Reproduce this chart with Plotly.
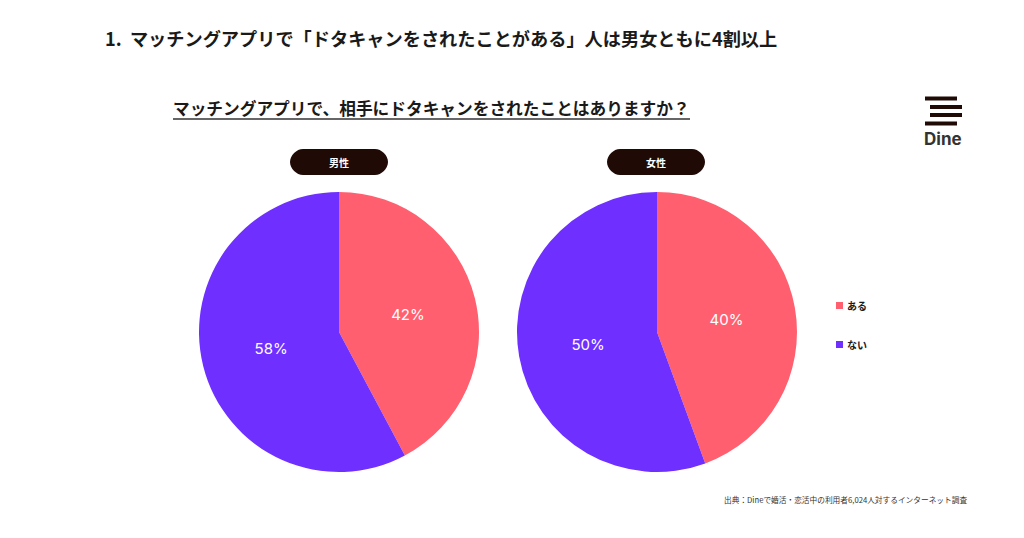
import plotly.graph_objects as go

# slices follow the drawn areas, the labels are what the slide prints
labels = ['ある', 'ない']
male_values = [42.2, 57.8]
female_values = [44.4, 55.6]
male_text = ['42%', '58%']
female_text = ['40%', '50%']
colors = ['#FF5F6F', '#6F2FFF']

title_text = '1.  マッチングアプリで「ドタキャンをされたことがある」人は男女ともに4割以上'
question_text = 'マッチングアプリで、相手にドタキャンをされたことはありますか？'
source_text = '出典：Dineで婚活・恋活中の利用者6,024人対するインターネット調査'

W, H = 1024, 538
JP = 'Noto Sans CJK JP'
DARK = '#1F0A06'


def pie_trace(values, text, x0, x1):
    return go.Pie(
        labels=labels, values=values, text=text,
        textinfo='text', textposition='inside', insidetextorientation='horizontal',
        textfont=dict(family='Inter', size=15, color='white'),
        marker=dict(colors=colors, line=dict(width=0)),
        sort=False, direction='clockwise', rotation=0, hole=0,
        domain=dict(x=[x0 / W, x1 / W], y=[(H - 472) / H, (H - 192) / H]),
        showlegend=False, hoverinfo='label+value',
    )


def pill_path(x0, y0, x1, y1):
    r = (y1 - y0) / 2
    return (f'M {x0 + r} {y0} L {x1 - r} {y0} C {x1 - r / 2} {y0} {x1} {y0 + r / 2} {x1} {y0 + r} '
            f'C {x1} {y1 - r / 2} {x1 - r / 2} {y1} {x1 - r} {y1} L {x0 + r} {y1} '
            f'C {x0 + r / 2} {y1} {x0} {y1 - r / 2} {x0} {y0 + r} C {x0} {y0 + r / 2} {x0 + r / 2} {y0} {x0 + r} {y0} Z')


fig = go.Figure()
fig.add_trace(pie_trace(male_values, male_text, 199, 479))
fig.add_trace(pie_trace(female_values, female_text, 517, 797))

shapes = [
    dict(type='line', x0=173, x1=690, y0=119, y1=119, line=dict(color='#333333', width=1.5)),
    dict(type='path', path=pill_path(290, 149, 388, 175), fillcolor=DARK, line=dict(width=0)),
    dict(type='path', path=pill_path(607, 149, 705, 175), fillcolor=DARK, line=dict(width=0)),
    dict(type='rect', x0=836, x1=843, y0=302, y1=309, fillcolor=colors[0], line=dict(width=0)),
    dict(type='rect', x0=836, x1=843, y0=341, y1=348, fillcolor=colors[1], line=dict(width=0)),
]
# logo bars
for bx, by in [(925, 98.5), (930, 107), (930, 115), (925, 123.5)]:
    shapes.append(dict(type='rect', x0=bx, x1=bx + 32, y0=by - 2, y1=by + 2,
                       fillcolor=DARK, line=dict(width=0)))


def note(x, y, text, size, anchor='left', color='#1A1A1A', family=JP, bold=True):
    return dict(x=x, y=y, xref='x', yref='y', text=f'<b>{text}</b>' if bold else text,
                showarrow=False, xanchor=anchor, yanchor='middle',
                font=dict(family=family, size=size, color=color))


annotations = [
    note(103, 38, title_text, 18.2),
    note(171, 108, question_text, 16.7),
    note(339, 162, '男性', 10, 'center', 'white'),
    note(656, 162, '女性', 10, 'center', 'white'),
    note(845, 305, labels[0], 10),
    note(845, 344, labels[1], 10),
    note(943, 139, 'Dine', 17, 'center', '#333333', 'Inter'),
    note(722, 499, source_text, 7.7, color='#333333', bold=False),
]

fig.update_layout(
    width=W, height=H, margin=dict(l=0, r=0, t=0, b=0),
    paper_bgcolor='white', plot_bgcolor='white',
    xaxis=dict(range=[0, W], visible=False, fixedrange=True),
    yaxis=dict(range=[H, 0], visible=False, fixedrange=True),
    shapes=shapes, annotations=annotations,
)

fig.write_html('out.html', config=dict(displayModeBar=False),
               post_script="document.body.style.margin = '0';")
